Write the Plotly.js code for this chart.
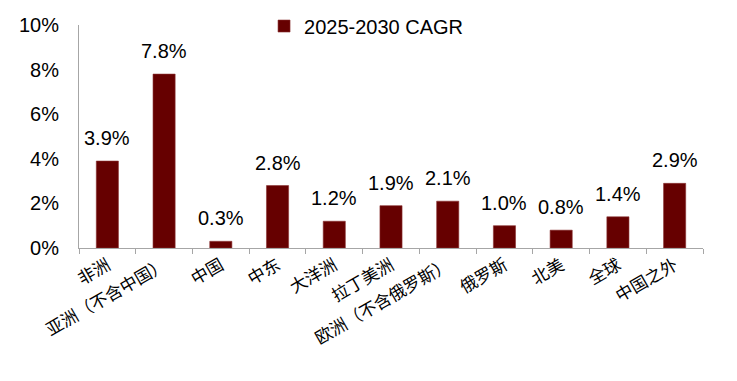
<!DOCTYPE html>
<html>
<head>
<meta charset="utf-8">
<script src="https://cdn.plot.ly/plotly-3.0.1.min.js"></script>
<style>html,body{margin:0;padding:0;background:#fff;}#chart{width:737px;height:381px;}</style>
</head>
<body>
<div id="chart"></div>
<script>
var categories = ['非洲','亚洲（不含中国）','中国','中东','大洋洲','拉丁美洲','欧洲（不含俄罗斯）','俄罗斯','北美','全球','中国之外'];
var cagr = [3.9, 7.8, 0.3, 2.8, 1.2, 1.9, 2.1, 1.0, 0.8, 1.4, 2.9];
var seriesName = '2025-2030 CAGR';
var yTicks = [0, 2, 4, 6, 8, 10];

var font = 'Liberation Sans, Arial, Noto Sans CJK SC, sans-serif';
var annotations = categories.map(function(c, i){
  return {x: c, y: cagr[i], xref: 'x', yref: 'y', text: cagr[i].toFixed(1) + '%',
    showarrow: false, yanchor: 'bottom', yshift: 10,
    font: {family: font, size: 20, color: '#000'}};
});

var trace = {
  type: 'bar', x: categories, y: cagr, name: seriesName,
  marker: {color: '#660000', line: {color: '#8a3030', width: 0.6}},
  width: 0.39, showlegend: true
};

var layout = {
  width: 737, height: 381,
  margin: {l: 79, r: 34, t: 0, b: 133},
  paper_bgcolor: '#fff', plot_bgcolor: '#fff',
  font: {family: font, color: '#000'},
  showlegend: true,
  legend: {orientation: 'h', x: 0.46, xanchor: 'center', y: 0.895, yanchor: 'middle',
    itemwidth: 30,
    font: {family: font, size: 20, color: '#000'}, bgcolor: 'rgba(0,0,0,0)'},
  xaxis: {
    type: 'category', showline: true, linecolor: '#a6a6a6', linewidth: 1,
    ticks: 'outside', tickson: 'boundaries', ticklen: 5, tickcolor: '#a6a6a6',
    tickangle: -30, tickfont: {family: 'Noto Sans CJK SC, sans-serif', size: 17, color: '#000'},
    showgrid: false, zeroline: false, fixedrange: true, automargin: false
  },
  yaxis: {
    domain: [0, 0.899],
    range: [0, 10], tickvals: yTicks, ticktext: yTicks.map(function(v){return v + '%';}),
    showline: true, linecolor: '#a6a6a6', linewidth: 1, ticks: '',
    ticklabelstandoff: 15,
    tickfont: {family: font, size: 20, color: '#000'},
    showgrid: false, zeroline: false, fixedrange: true, automargin: false
  },
  annotations: annotations
};

Plotly.newPlot('chart', [trace], layout, {displayModeBar: false, staticPlot: true});
</script>
</body>
</html>
